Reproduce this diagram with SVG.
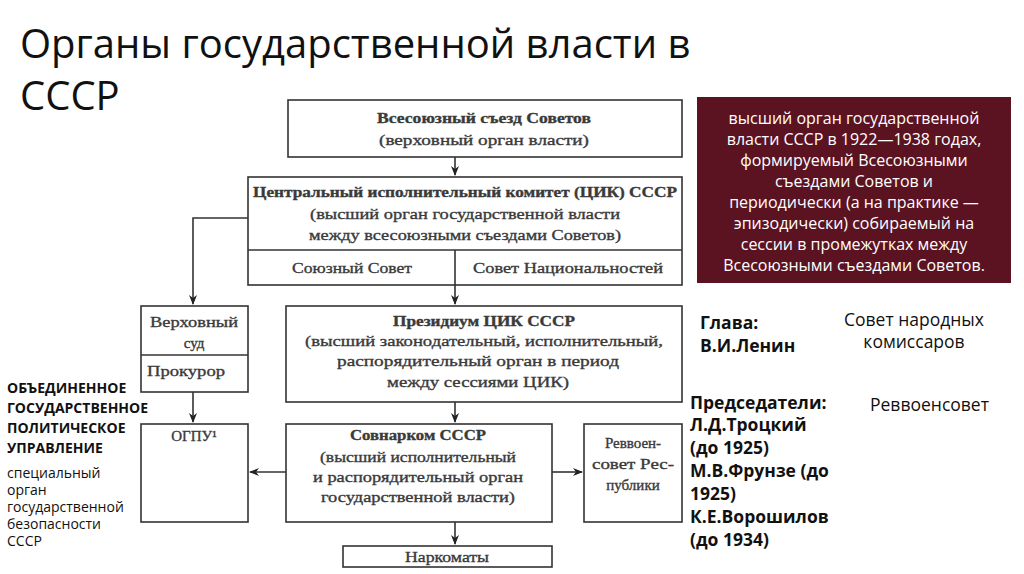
<svg xmlns="http://www.w3.org/2000/svg" width="1024" height="574" viewBox="0 0 1024 574">
<defs><marker id="ar" markerWidth="10" markerHeight="10" refX="9" refY="5" orient="auto" markerUnits="userSpaceOnUse"><path d="M0,1 L10,5 L0,9 L3,5 Z" fill="#222"/></marker></defs>
<style>
.b{fill:#fff;stroke:#333;stroke-width:1.6}
.t{font-family:"Liberation Serif",serif;font-size:15px;fill:#3a3a3a;stroke:#3a3a3a;stroke-width:0.35;text-anchor:middle}
.bd{font-weight:bold}
.l{stroke:#333;stroke-width:1.6;fill:none}
.s{font-family:"Open Sans","Liberation Sans",sans-serif;fill:#111}
</style>
<rect width="1024" height="574" fill="#fff"/>
<text class="s" x="20" y="58" font-size="40" fill="#222">Органы государственной власти в</text>
<text class="s" x="20" y="110" font-size="40" fill="#222">СССР</text>
<g id="connectors">
<path class="l" d="M455 157 V175" marker-end="url(#ar)"/>
<path class="l" d="M248 218 H193 V304" marker-end="url(#ar)"/>
<path class="l" d="M455 250 V304" marker-end="url(#ar)"/>
<path class="l" d="M193 392 V422" marker-end="url(#ar)"/>
<path class="l" d="M455 402 V422" marker-end="url(#ar)"/>
<path class="l" d="M286 472 H250" marker-end="url(#ar)"/>
<path class="l" d="M552 472 H582" marker-end="url(#ar)"/>
<path class="l" d="M455 522 V544" marker-end="url(#ar)"/>
</g>
<g id="n1"><rect class="b" x="288" y="100" width="394" height="57"/>
<text class="t bd" x="484" y="123" textLength="214" lengthAdjust="spacingAndGlyphs">Всесоюзный съезд Советов</text>
<text class="t" x="484" y="145" textLength="210" lengthAdjust="spacingAndGlyphs">(верховный орган власти)</text></g>
<g id="n2"><rect class="b" x="248" y="177" width="434" height="108"/>
<line class="l" x1="248" y1="250" x2="682" y2="250"/><line class="l" x1="455" y1="250" x2="455" y2="285"/>
<text class="t bd" x="465" y="197" textLength="424" lengthAdjust="spacingAndGlyphs">Центральный исполнительный комитет (ЦИК) СССР</text>
<text class="t" x="465" y="219" textLength="310" lengthAdjust="spacingAndGlyphs">(высший орган государственной власти</text>
<text class="t" x="465" y="240" textLength="312" lengthAdjust="spacingAndGlyphs">между всесоюзными съездами Советов)</text>
<text class="t" x="352" y="273" textLength="120" lengthAdjust="spacingAndGlyphs">Союзный Совет</text>
<text class="t" x="568" y="273" textLength="190" lengthAdjust="spacingAndGlyphs">Совет Национальностей</text></g>
<g id="n3"><rect class="b" x="141" y="306" width="107" height="86"/>
<line class="l" x1="141" y1="355" x2="248" y2="355"/>
<text class="t" x="194" y="327" textLength="88" lengthAdjust="spacingAndGlyphs">Верховный</text><text class="t" x="194" y="348">суд</text>
<text class="t" x="186" y="376" textLength="78" lengthAdjust="spacingAndGlyphs">Прокурор</text></g>
<g id="n4"><rect class="b" x="286" y="306" width="396" height="96"/>
<text class="t bd" x="484" y="326" textLength="182" lengthAdjust="spacingAndGlyphs">Президиум ЦИК СССР</text>
<text class="t" x="484" y="346" textLength="358" lengthAdjust="spacingAndGlyphs">(высший законодательный, исполнительный,</text>
<text class="t" x="478" y="366" textLength="282" lengthAdjust="spacingAndGlyphs">распорядительный орган в период</text>
<text class="t" x="478" y="387" textLength="182" lengthAdjust="spacingAndGlyphs">между  сессиями ЦИК)</text></g>
<g id="n5"><rect class="b" x="141" y="424" width="107" height="98"/>
<text class="t" x="194" y="441">ОГПУ¹</text></g>
<g id="n6"><rect class="b" x="286" y="424" width="266" height="98"/>
<text class="t bd" x="418" y="440" textLength="136" lengthAdjust="spacingAndGlyphs">Совнарком СССР</text>
<text class="t" x="418" y="462" textLength="196" lengthAdjust="spacingAndGlyphs">(высший исполнительный</text>
<text class="t" x="418" y="482" textLength="210" lengthAdjust="spacingAndGlyphs">и распорядительный орган</text>
<text class="t" x="418" y="502" textLength="194" lengthAdjust="spacingAndGlyphs">государственной власти)</text></g>
<g id="n7"><rect class="b" x="584" y="424" width="98" height="98"/>
<text class="t" x="633" y="448">Реввоен-</text><text class="t" x="633" y="469" textLength="82" lengthAdjust="spacingAndGlyphs">совет Рес-</text><text class="t" x="633" y="490">публики</text></g>
<g id="n8"><rect class="b" x="343" y="546" width="209" height="21"/>
<text class="t" x="447" y="562" textLength="84" lengthAdjust="spacingAndGlyphs">Наркоматы</text></g>
<g id="info"><rect x="697" y="97" width="314" height="186" fill="#5b1322"/>
<g font-family="'Open Sans','Liberation Sans',sans-serif" font-size="16" fill="#fff" text-anchor="middle">
<text x="854" y="124">высший орган государственной</text>
<text x="854" y="145">власти СССР в 1922—1938 годах,</text>
<text x="854" y="166">формируемый Всесоюзными</text>
<text x="854" y="187">съездами Советов и</text>
<text x="854" y="208">периодически (а на практике —</text>
<text x="854" y="229">эпизодически) собираемый на</text>
<text x="854" y="250">сессии в промежутках между</text>
<text x="854" y="271">Всесоюзными съездами Советов.</text></g></g>
<g class="s" font-size="17.5">
<text x="700" y="329" font-weight="bold">Глава:</text>
<text x="700" y="352" font-weight="bold">В.И.Ленин</text>
<text x="914" y="326" text-anchor="middle">Совет народных</text>
<text x="914" y="348" text-anchor="middle">комиссаров</text>
<text x="690" y="409" font-weight="bold">Председатели:</text>
<text x="690" y="431" font-weight="bold">Л.Д.Троцкий</text>
<text x="690" y="454" font-weight="bold">(до 1925)</text>
<text x="690" y="477" font-weight="bold">М.В.Фрунзе (до</text>
<text x="690" y="500" font-weight="bold">1925)</text>
<text x="690" y="523" font-weight="bold">К.Е.Ворошилов</text>
<text x="690" y="546" font-weight="bold">(до 1934)</text>
<text x="870" y="411">Реввоенсовет</text>
</g>
<g class="s" font-size="14">
<text x="7" y="393" font-weight="bold">ОБЪЕДИНЕННОЕ</text>
<text x="7" y="413" font-weight="bold">ГОСУДАРСТВЕННОЕ</text>
<text x="7" y="433" font-weight="bold">ПОЛИТИЧЕСКОЕ</text>
<text x="7" y="453" font-weight="bold">УПРАВЛЕНИЕ</text>
<text x="7" y="478">специальный</text>
<text x="7" y="495">орган</text>
<text x="7" y="512">государственной</text>
<text x="7" y="529">безопасности</text>
<text x="7" y="546">СССР</text>
</g>
</svg>
